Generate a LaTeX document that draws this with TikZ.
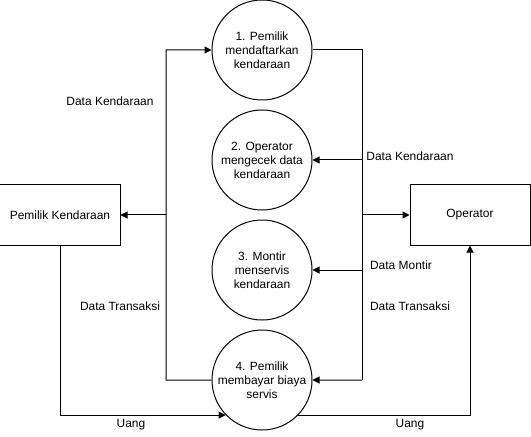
\documentclass[tikz,border=0pt]{standalone}
\usepackage{fontspec}
\setmainfont{Liberation Sans}
\usetikzlibrary{positioning,arrows.meta}

\begin{document}
\begin{tikzpicture}[x=1bp,y=-1bp,node distance=110bp,on grid,line width=1bp,
		process/.style={circle, draw, minimum size=100bp, inner sep=0pt, align=center, font=\fontsize{12}{14}\selectfont},
		entity/.style={rectangle, draw, minimum width=120bp, minimum height=60bp, font=\fontsize{12}{14}\selectfont},
		flow/.style={-{Triangle[length=7bp,width=7bp]}},
		flowlabel/.style={font=\fontsize{12}{14}\selectfont}
	]
	\useasboundingbox (0,0) rectangle (531,437);
	
	\node[process] (p_1) at (262,50) {1. Pemilik\\mendaftarkan\\kendaraan};
	\node[process] (p_2) [below=of p_1] {2. Operator\\mengecek data\\kendaraan};
	\node[process] (p_3) [below=of p_2] {3. Montir\\menservis\\kendaraan};
	\node[process] (p_4) [below=of p_3] {4. Pemilik\\membayar biaya\\servis};
	
	\node[entity] (pemilik) at (60,215) {Pemilik Kendaraan};
	\node[entity] (operator) at (470,215) {Operator};
	
	\coordinate (l_bus) at (166,380);
	\coordinate (r_bus) at (362,380);
	
	\draw[flow] (p_4.west) -- (l_bus) |- (p_1.west);
	\draw[flow] (l_bus |- pemilik.east) -- (pemilik.east);
	
	\draw (p_1.east) -| (r_bus);
	\draw[flow] (r_bus |- p_2.east) -- (p_2.east);
	\draw[flow] (r_bus |- p_3.east) -- (p_3.east);
	\draw[flow] (r_bus) -- (p_4.east);
	\draw[flow] (r_bus |- operator.west) -- (operator.west);
	
	\draw[flow] (pemilik.south) |- (p_4.224);
	\draw[flow] (p_4.-44) -| (operator.south);
	
	\node[flowlabel] (l_data_1) at (110,101) {Data Kendaraan};
	\node[flowlabel] (l_trans_1) at (120,306) {Data Transaksi};
	\node[flowlabel] (r_data_1) at (410,156) {Data Kendaraan};
	\node[flowlabel] (r_montir) at (401,265) {Data Montir};
	\node[flowlabel] (r_trans_1) at (410,306) {Data Transaksi};
	\node[flowlabel] (l_uang) at (131,425) {Uang};
	\node[flowlabel] (r_uang) at (410,425) {Uang};
\end{tikzpicture}
\end{document}
